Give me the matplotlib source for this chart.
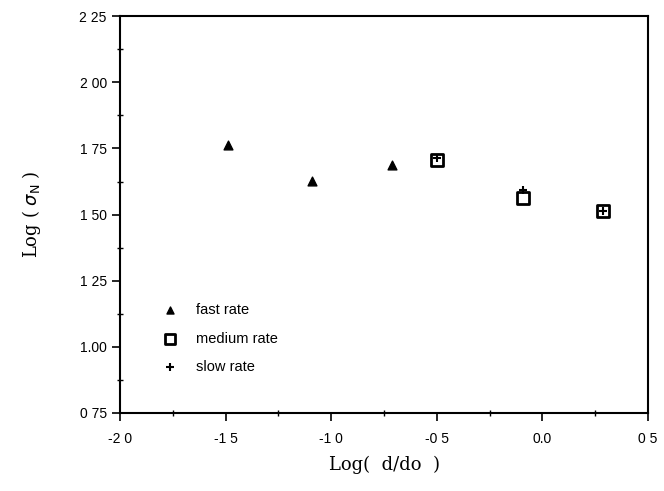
import matplotlib
matplotlib.use("Agg")
import matplotlib.pyplot as plt
from matplotlib.ticker import MultipleLocator

fast_x = [-1.49, -1.09, -0.71]
fast_y = [1.763, 1.627, 1.687]
medium_x = [-0.50, -0.09, 0.285]
medium_y = [1.707, 1.562, 1.512]
slow_x = [-0.50, -0.09, 0.285]
slow_y = [1.712, 1.593, 1.515]

xticks = [-2.0, -1.5, -1.0, -0.5, 0.0, 0.5]
xticklabels = ["-2 0", "-1 5", "-1 0", "-0 5", "0.0", "0 5"]
yticks = [0.75, 1.00, 1.25, 1.50, 1.75, 2.00, 2.25]
yticklabels = ["0 75", "1.00", "1 25", "1 50", "1 75", "2 00", "2 25"]

fig = plt.figure(figsize=(6.64, 4.91), dpi=100)
ax = fig.add_axes([0.1807, 0.159, 0.7953, 0.808])

ax.scatter(medium_x, medium_y, marker='s', s=70, facecolors='white',
           edgecolors='black', linewidths=2.0, label='medium rate', zorder=3)
ax.scatter(slow_x, slow_y, marker='+', s=40, color='black', linewidths=1.5,
           label='slow rate', zorder=4)
ax.scatter(fast_x, fast_y, marker='^', s=40, color='black', label='fast rate', zorder=5)

ax.set_xlim(-2.0, 0.5)
ax.set_ylim(0.75, 2.25)
ax.set_xticks(xticks)
ax.set_xticklabels(xticklabels, family='Liberation Sans', fontsize=10)
ax.set_yticks(yticks)
ax.set_yticklabels(yticklabels, family='Liberation Sans', fontsize=10)
ax.xaxis.set_minor_locator(MultipleLocator(0.25))
ax.yaxis.set_minor_locator(MultipleLocator(0.125))
ax.tick_params(which='major', direction='out', length=6, width=1.2, top=False, right=False)
ax.tick_params(axis='x', which='major', pad=8)
ax.tick_params(which='minor', direction='inout', length=5, width=1.0, top=False, right=False)
for sp in ax.spines.values():
    sp.set_linewidth(1.5)

ax.set_xlabel("Log(  d/do  )", family='DejaVu Serif', fontsize=13, labelpad=7)
ax.set_ylabel(r"Log ( $\sigma_{\rm N}$ )", family='DejaVu Serif', fontsize=13, labelpad=26)

handles, labels = ax.get_legend_handles_labels()
order = [labels.index('fast rate'), labels.index('medium rate'), labels.index('slow rate')]
leg = ax.legend([handles[i] for i in order], [labels[i] for i in order],
                loc='upper left', bbox_to_anchor=(0.042, 0.31), frameon=False,
                prop={'family': 'Liberation Sans', 'size': 10.5}, labelspacing=1.0,
                handletextpad=0.8, markerscale=0.8)

fig.savefig("out.png", dpi=100)
